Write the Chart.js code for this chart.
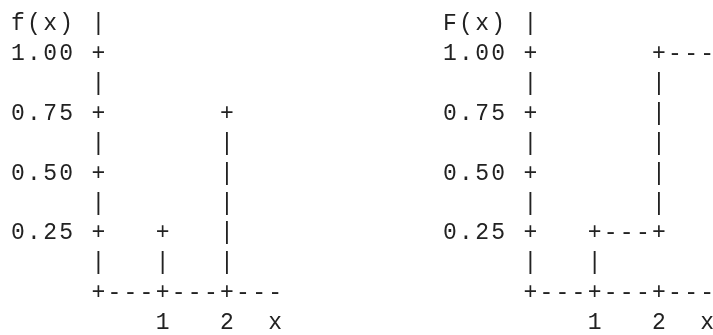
<!DOCTYPE html>
<html><head><meta charset="utf-8">
<script src="https://cdn.jsdelivr.net/npm/chart.js@4/dist/chart.umd.min.js"></script>
<style>html,body{margin:0;padding:0;background:#fff;}#wrap{width:713px;height:335px;position:relative;overflow:hidden}canvas{display:block}</style>
</head><body><div id="wrap"><canvas id="c" width="713" height="335"></canvas></div>
<script>
// ---- data ----
const xCategories = [1, 2];
const pmfValues = [0.25, 0.75];       // f(x)
const cdfValues = [0.25, 1.00];       // F(x) from each x onward
const yTicks = [0.25, 0.50, 0.75, 1.00];
const yTickLabels = ['0.25', '0.50', '0.75', '1.00'];
const xTickLabels = ['1', '2'];
const panelTitles = ['f(x)', 'F(x)'];
const xAxisLabel = 'x';
const xAxisEnd = 2.75;

// ---- text-grid geometry (one character cell in data units) ----
const COL = 0.25, ROW = 0.125;

const pmfPoints = xCategories.map((x, i) => ({x, y: pmfValues[i]}));
const cdfPoints = xCategories.map((x, i) => ({x, y: cdfValues[i]}));

function same(a, b) { return Math.abs(a - b) < 1e-9; }

const asciiPlugin = {
  id: 'ascii',
  afterDatasetsDraw(chart) {
    const ctx = chart.ctx;
    const yS = chart.scales.y;
    ctx.save();
    ctx.font = '23px "Liberation Mono", "DejaVu Sans Mono", monospace';
    ctx.fillStyle = '#222';
    ctx.textAlign = 'center';
    ctx.textBaseline = 'alphabetic';

    chart.data.datasets.forEach((ds, di) => {
      const xS = chart.scales[ds.xAxisID];
      const cells = new Map();
      const put = (x, y, ch) => cells.set(Math.round(x / COL) + ',' + Math.round(y / ROW), {x, y, ch});
      const text = (xEnd, y, str) => { // right-aligned ending at xEnd
        for (let i = 0; i < str.length; i++) put(xEnd - (str.length - 1 - i) * COL, y, str[i]);
      };
      // title row
      text(-2 * COL, 1 + ROW, panelTitles[di]);
      put(0, 1 + ROW, '|');
      // y axis
      for (let y = ROW; y <= 1 + 1e-9; y += ROW) {
        const ti = yTicks.findIndex(t => same(t, y));
        if (ti >= 0) { put(0, y, '+'); text(-2 * COL, y, yTickLabels[ti]); }
        else put(0, y, '|');
      }
      // x axis
      put(0, 0, '+');
      for (let x = COL; x <= xAxisEnd + 1e-9; x += COL) {
        put(x, 0, xCategories.some(c => same(c, x)) ? '+' : '-');
      }
      xCategories.forEach((c, i) => put(c, -ROW, xTickLabels[i]));
      put(xAxisEnd, -ROW, xAxisLabel);

      const pts = ds.data;
      if (ds.kind === 'stem') {
        pts.forEach(p => {
          for (let y = ROW; y < p.y - 1e-9; y += ROW) put(p.x, y, '|');
          put(p.x, p.y, '+');
        });
      } else {
        let prev = 0;
        pts.forEach((p, i) => {
          for (let y = prev + ROW; y < p.y - 1e-9; y += ROW) put(p.x, y, '|');
          put(p.x, p.y, '+');
          const xNext = i + 1 < pts.length ? pts[i + 1].x : xAxisEnd + COL;
          for (let x = p.x + COL; x < xNext - 1e-9; x += COL) put(x, p.y, '-');
          if (i + 1 < pts.length) put(xNext, p.y, '+');
          prev = p.y;
        });
      }
      // baseline sits a little below each row centre
      cells.forEach(c => ctx.fillText(c.ch, xS.getPixelForValue(c.x), yS.getPixelForValue(c.y) + 7.5));
    });
    ctx.restore();
  }
};

// pixel anchors of the two panels (origin columns) and row spacing
const W = 713, H = 335, unitX = 64.3, unitY = 239;
const x0L = 98.3, x0R = 530.3, y0 = 291.7;

new Chart(document.getElementById('c'), {
  type: 'scatter',
  data: {
    datasets: [
      {label: 'f(x)', kind: 'stem', xAxisID: 'x', data: pmfPoints, pointRadius: 0, showLine: false},
      {label: 'F(x)', kind: 'step', xAxisID: 'x2', data: cdfPoints, pointRadius: 0, showLine: false}
    ]
  },
  options: {
    responsive: false, animation: false, devicePixelRatio: 1,
    layout: {padding: 0},
    plugins: {legend: {display: false}, tooltip: {enabled: false}},
    scales: {
      x: {type: 'linear', display: false, min: -x0L / unitX, max: (W - x0L) / unitX},
      x2: {type: 'linear', display: false, min: -x0R / unitX, max: (W - x0R) / unitX},
      y: {type: 'linear', display: false, min: -(H - y0) / unitY, max: y0 / unitY}
    }
  },
  plugins: [asciiPlugin]
});
</script>
</body></html>
